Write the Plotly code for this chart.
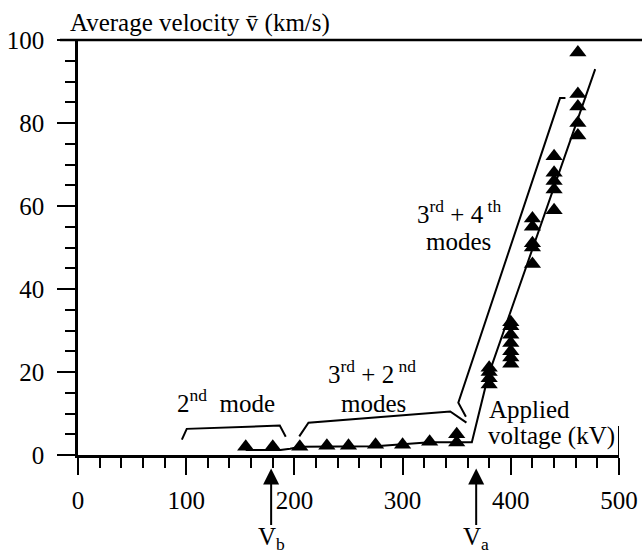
import plotly.graph_objects as go

# ---- data ----
volt_low = [155, 180, 205, 230, 250, 275, 300, 325, 350, 350]
vel_low = [2.0, 2.0, 2.0, 2.2, 2.2, 2.5, 2.5, 3.2, 3.0, 5.0]

volt_high = [380, 380, 380, 380,
             400, 400, 400, 400, 400, 400, 400,
             420, 420, 420, 420, 420,
             440, 440, 440, 440, 440,
             462, 462, 462, 462, 462]
vel_high = [17, 18.5, 20, 21,
            22, 23.5, 25, 27, 29, 31, 32,
            46, 50, 51, 55, 57,
            59, 64, 66, 68, 72,
            77, 80, 84, 87, 97]

fit_volt = [155, 187, 196, 205, 275, 300, 325, 364, 379, 478]
fit_vel = [1.2, 1.2, 1.5, 2.0, 2.1, 2.6, 3.1, 3.1, 19, 93]

br2_volt = [96, 100.5, 186.5, 192]
br2_vel = [3.7, 6.3, 7.1, 4.4]
br32_volt = [204.5, 213, 344, 359]
br32_vel = [4.5, 7.8, 10.5, 7.8]
br34_volt = [358.5, 351.5, 445.5, 450.5]
br34_vel = [9.2, 12.6, 86, 86]

x_ticks = [0, 100, 200, 300, 400, 500]
y_ticks = [0, 20, 40, 60, 80, 100]
v_b, v_a = 178.5, 368

FONT = "Liberation Serif, Times New Roman, DejaVu Serif, serif"
FS = 25
BLACK = "black"

fig = go.Figure()

fig.add_trace(go.Scatter(x=fit_volt, y=fit_vel, mode="lines",
                         line=dict(color=BLACK, width=2), hoverinfo="skip"))
for bx, by in [(br2_volt, br2_vel), (br32_volt, br32_vel), (br34_volt, br34_vel)]:
    fig.add_trace(go.Scatter(x=bx, y=by, mode="lines",
                             line=dict(color=BLACK, width=2), hoverinfo="skip"))

fig.add_trace(go.Scatter(x=volt_low + volt_high, y=vel_low + vel_high, mode="markers",
                         marker=dict(symbol="triangle-up", size=15, color=BLACK,
                                     line=dict(width=0)), cliponaxis=False))

L, R, T, B = 78, 23, 39.5, 100.5
W, H = 642, 556
pw = W - L - R
ph = H - T - B

fig.update_layout(
    width=W, height=H,
    margin=dict(l=L, r=R, t=T, b=B, autoexpand=False),
    paper_bgcolor="white", plot_bgcolor="white",
    showlegend=False,
    font=dict(family=FONT, size=FS, color=BLACK),
)

fig.update_xaxes(
    range=[0, 500], tickvals=x_ticks, ticktext=[str(v) for v in x_ticks],
    showgrid=False, zeroline=False, showline=True, linecolor=BLACK, linewidth=2.5,
    ticks="outside", ticklen=17, tickwidth=2, tickcolor=BLACK,
    minor=dict(dtick=20, tick0=0, ticks="outside", ticklen=10, tickwidth=2, tickcolor=BLACK),
    tickfont=dict(family=FONT, size=FS, color=BLACK), ticklabelstandoff=4,
    automargin=False,
)
fig.update_yaxes(
    range=[0, 100], tickvals=y_ticks, ticktext=[str(v) for v in y_ticks],
    showgrid=False, zeroline=False, showline=True, linecolor=BLACK, linewidth=2.5,
    ticks="outside", ticklen=18, tickwidth=2, tickcolor=BLACK,
    minor=dict(dtick=5, tick0=0, ticks="outside", ticklen=10, tickwidth=2, tickcolor=BLACK),
    tickfont=dict(family=FONT, size=FS, color=BLACK), ticklabelstandoff=8,
    automargin=False,
)

# top frame line extending to the right edge
fig.add_shape(type="line", xref="paper", yref="paper",
              x0=-18 / pw, x1=(W - L) / pw, y0=1, y1=1,
              line=dict(color=BLACK, width=2.5))
# short right bar at 500 kV
fig.add_shape(type="line", xref="x", yref="y", x0=500, x1=500, y0=0, y1=7,
              line=dict(color=BLACK, width=2))

ann = []
ann.append(dict(text="Average velocity v\u0304 (km/s)", xref="paper", yref="paper",
                x=-10 / pw, y=1 + (T - 22) / ph, xanchor="left", yanchor="middle",
                showarrow=False))
ann.append(dict(text="2<sup>nd</sup>  mode", x=137, y=13, showarrow=False))
ann.append(dict(text="3<sup>rd</sup> + 2<sup> nd</sup>", x=272, y=20, showarrow=False))
ann.append(dict(text="modes", x=273, y=12.3, showarrow=False))
ann.append(dict(text="3<sup>rd</sup> + 4<sup> th</sup>", x=352, y=58.5, showarrow=False))
ann.append(dict(text="modes", x=352, y=51.5, showarrow=False))
ann.append(dict(text="Applied", x=378, y=11, xanchor="left", showarrow=False))
ann.append(dict(text="voltage (kV)", x=377, y=4.6, xanchor="left", showarrow=False))
for vv, lab in [(v_b, "V<sub>b</sub>"), (v_a, "V<sub>a</sub>")]:
    ann.append(dict(text="", x=vv, yref="paper", y=(455.5 - 469) / ph, ax=0, ay=58,
                    showarrow=True, arrowhead=2, arrowsize=1.6, arrowwidth=2,
                    arrowcolor=BLACK))
    ann.append(dict(text=lab, x=vv, yref="paper", y=(455.5 - 557) / ph,
                    showarrow=False))
for a in ann:
    a.setdefault("xref", "x")
    a.setdefault("yref", "y")
    a["font"] = dict(family=FONT, size=FS, color=BLACK)
fig.update_layout(annotations=ann)

fig.write_html("out.html", config={"displayModeBar": False},
               post_script="document.body.style.margin='0';document.body.style.overflow='hidden';")
